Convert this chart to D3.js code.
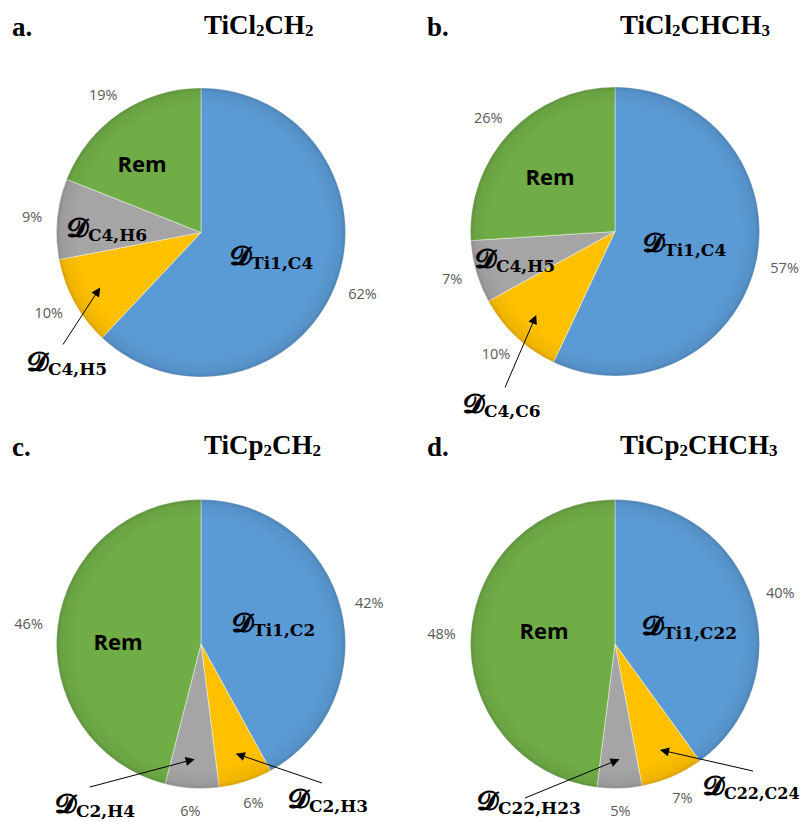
<!DOCTYPE html>
<html>
<head>
<meta charset="utf-8">
<script src="https://cdn.jsdelivr.net/npm/d3@7"></script>
<style>
  body { margin: 0; background: #fff; }
  svg { display: block; }
</style>
</head>
<body>
<svg id="chart" width="806" height="822"></svg>
<script>
// ---- data -------------------------------------------------------------
const panelLetters = ["a.", "b.", "c.", "d."];
const panelTitles  = ["TiCl2CH2", "TiCl2CHCH3", "TiCp2CH2", "TiCp2CHCH3"];

// slice shares (%) in clockwise order from 12 o'clock
const sliceKeys   = ["main", "second", "third", "rem"];
const mainPct     = [62, 57, 42, 40];
const secondPct   = [10, 10, 6, 7];
const thirdPct    = [9, 7, 6, 5];
const remPct      = [19, 26, 46, 48];

// subscripts of the 𝓓 descriptors for each slice
const mainSub     = ["Ti1,C4", "Ti1,C4", "Ti1,C2", "Ti1,C22"];
const secondSub   = ["C4,H5", "C4,C6", "C2,H3", "C22,C24"];
const thirdSub    = ["C4,H6", "C4,H5", "C2,H4", "C22,H23"];
const remLabel    = "Rem";

// ---- styling / layout -------------------------------------------------
const colors = { main: "#5B9BD5", second: "#FFC000", third: "#A5A5A5", rem: "#70AD47" };
const panelCenters = [[201, 232.5], [615, 231.5], [201, 644], [615, 644]];
const radius = 144.5;
const letterX = [12, 427, 12, 427];
const titleX  = [204, 620, 204, 620];
const titleBaseline = [36, 36, 456, 456];

// descriptor label placement relative to each pie centre
// (labels with a tail sit outside the slice and point to it with an arrow)
const labelLayout = [
  { main: { dx: 29, dy: 32 }, third: { dx: -134, dy: 4 },
    second: { dx: -174, dy: 138, tail: [-138, 112] }, rem: { dx: -59, dy: -61 } },
  { main: { dx: 28, dy: 20 }, third: { dx: -140, dy: 36 },
    second: { dx: -152, dy: 181, tail: [-110, 156] }, rem: { dx: -65, dy: -47 } },
  { main: { dx: 31, dy: -12 }, third: { dx: -146, dy: 169, tail: [-111, 143] },
    second: { dx: 87, dy: 164, tail: [121, 139] }, rem: { dx: -83, dy: 6 } },
  { main: { dx: 27, dy: -9 }, third: { dx: -138, dy: 166, tail: [-90, 154] },
    second: { dx: 88, dy: 151, tail: [138, 127], subSize: 16 }, rem: { dx: -71, dy: -5 } }
];

const svg = d3.select("#chart");
const defs = svg.append("defs");

// soft darkening toward the rim of each pie
const rim = defs.append("radialGradient").attr("id", "rimShade");
rim.append("stop").attr("offset", "0.86").attr("stop-color", "#000").attr("stop-opacity", 0);
rim.append("stop").attr("offset", "0.97").attr("stop-color", "#000").attr("stop-opacity", 0.06);
rim.append("stop").attr("offset", "1").attr("stop-color", "#000").attr("stop-opacity", 0.16);

defs.append("marker")
  .attr("id", "arrowHead")
  .attr("viewBox", "0 0 10 10")
  .attr("refX", 9).attr("refY", 5)
  .attr("markerWidth", 11).attr("markerHeight", 9)
  .attr("markerUnits", "userSpaceOnUse")
  .attr("orient", "auto")
  .append("path").attr("d", "M0,0 L10,5 L0,10 Z").attr("fill", "#000");

const pie = d3.pie().sort(null).value(d => d.value);
const arc = d3.arc().innerRadius(0).outerRadius(radius);

// formula with its digits lowered as subscripts
function drawFormula(sel, text) {
  const parts = text.match(/[A-Za-z]+|\d+/g);
  parts.forEach(p => {
    if (/^\d+$/.test(p)) {
      sel.append("tspan").attr("font-size", 17).attr("dy", 2).text(p);
    } else {
      sel.append("tspan").attr("font-size", 27).attr("dy", sel.selectAll("tspan").size() ? -2 : 0).text(p);
    }
  });
}

function drawDescriptor(g, x, y, sub, subSize) {
  const t = g.append("text").attr("x", x).attr("y", y).attr("fill", "#000");
  t.append("tspan")
    .attr("font-family", "'DejaVu Serif', 'DejaVu Sans', serif")
    .attr("font-weight", 700)
    .attr("font-size", 27).text("𝓓");
  t.append("tspan")
    .attr("font-family", "'DejaVu Serif', serif")
    .attr("font-weight", 700)
    .attr("font-size", subSize || 17).attr("dy", 4).text(sub);
}

panelLetters.forEach((letter, i) => {
  const [cx, cy] = panelCenters[i];
  const values = [mainPct[i], secondPct[i], thirdPct[i], remPct[i]];
  const slices = pie(sliceKeys.map((k, j) => ({ key: k, value: values[j] })));

  // panel letter and formula
  svg.append("text")
    .attr("x", letterX[i]).attr("y", titleBaseline[i])
    .attr("font-family", "'Liberation Serif', 'Times New Roman', serif")
    .attr("font-weight", 700).attr("font-size", 27).attr("fill", "#000")
    .text(letter);
  const title = svg.append("text")
    .attr("x", titleX[i]).attr("y", titleBaseline[i])
    .attr("font-family", "'Liberation Serif', 'Times New Roman', serif")
    .attr("font-weight", 700).attr("fill", "#000");
  drawFormula(title, panelTitles[i]);

  const g = svg.append("g").attr("transform", `translate(${cx},${cy})`);

  g.selectAll("path.slice")
    .data(slices)
    .join("path")
    .attr("class", "slice")
    .attr("d", arc)
    .attr("fill", d => colors[d.data.key])
    .attr("stroke", "#ffffff")
    .attr("stroke-opacity", 0.55)
    .attr("stroke-width", 0.8);

  g.append("circle").attr("r", radius).attr("fill", "url(#rimShade)");

  // outside-end percentage labels
  slices.forEach(d => {
    const mid = (d.startAngle + d.endAngle) / 2;
    const ux = Math.sin(mid), uy = -Math.cos(mid);
    const t = g.append("text")
      .attr("font-family", "'Open Sans', sans-serif")
      .attr("font-size", 14.5)
      .attr("fill", "#595959")
      .attr("text-anchor", "middle")
      .attr("dominant-baseline", "central")
      .text(d.data.value + "%");
    const w = t.node().getComputedTextLength();
    const h = 15;
    const gap = radius + 15;
    t.attr("x", ux * gap + ux * w / 2).attr("y", uy * gap + uy * h / 2);
  });

  // descriptors
  const lay = labelLayout[i];
  const subs = { main: mainSub[i], second: secondSub[i], third: thirdSub[i] };
  slices.forEach(d => {
    const key = d.data.key;
    const L = lay[key];
    if (key === "rem") {
      g.append("text")
        .attr("x", L.dx).attr("y", L.dy)
        .attr("text-anchor", "middle")
        .attr("font-family", "'Open Sans', sans-serif")
        .attr("font-weight", 700).attr("font-size", 22)
        .attr("fill", "#000")
        .text(remLabel);
      return;
    }
    drawDescriptor(g, L.dx, L.dy, subs[key], L.subSize);
    if (L.tail) {
      const mid = (d.startAngle + d.endAngle) / 2;
      const tr = radius * 0.8;
      g.append("line")
        .attr("x1", L.tail[0]).attr("y1", L.tail[1])
        .attr("x2", Math.sin(mid) * tr).attr("y2", -Math.cos(mid) * tr)
        .attr("stroke", "#000").attr("stroke-width", 1)
        .attr("marker-end", "url(#arrowHead)");
    }
  });
});
</script>
</body>
</html>
